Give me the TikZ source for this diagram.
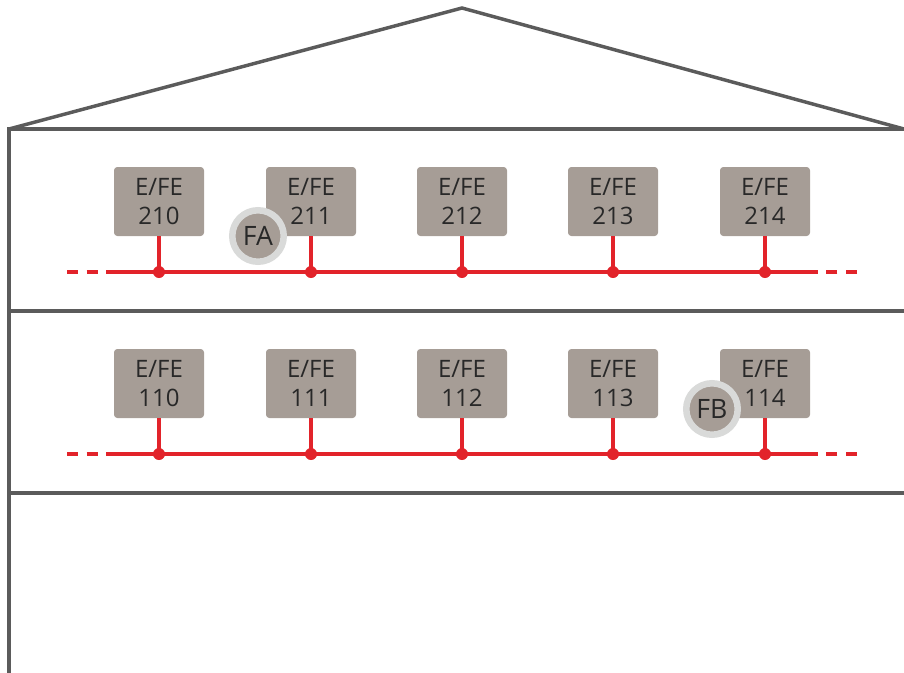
\documentclass[tikz,border=0pt]{standalone}
\usepackage{fontspec}
\setmainfont{Open Sans}
\definecolor{wallgray}{RGB}{91,91,91}
\definecolor{busred}{RGB}{226,35,42}
\definecolor{boxtaupe}{RGB}{166,157,150}
\definecolor{textdark}{RGB}{40,40,40}
\definecolor{ringgray}{RGB}{217,218,217}
\tikzset{
  wall/.style={line width=2.6pt, draw=wallgray, line join=miter},
  bus/.style={line width=3.2pt, draw=busred},
  busdash/.style={bus, dash pattern=on 8.25pt off 6.4pt},
  stub/.style={line width=3.2pt, draw=busred},
  tap/.style={circle, fill=busred, minimum size=9pt, inner sep=0pt},
  efe/.style={rectangle, rounded corners=2.5pt, fill=boxtaupe, text=textdark, align=center,
    minimum width=67.5pt, minimum height=51.75pt, inner sep=0pt,
    font=\fontsize{18}{22}\selectfont},
  fault/.style={circle, fill=boxtaupe, draw=ringgray, line width=4.9pt, minimum size=38.6pt,
    inner sep=0pt, text=textdark, font=\fontsize{20}{22}\selectfont}
}
\begin{document}
\begin{tikzpicture}[x=0.75pt, y=-0.75pt]
  \useasboundingbox (0,0) rectangle (904,672);

  % building outline
  \coordinate (eaveL) at (9,129);
  \coordinate (apex) at (462,8);
  \coordinate (eaveR) at (904,129);
  \coordinate (floor1L) at (9,311);
  \coordinate (floor1R) at (904,311);
  \coordinate (floor0L) at (9,493);
  \coordinate (floor0R) at (904,493);
  \coordinate (ground) at (9,675);
  \draw[wall] (eaveL) -- (apex) -- (eaveR);
  \draw[wall] (eaveR) -- (eaveL) -- (ground);
  \draw[wall] (floor1L) -- (floor1R);
  \draw[wall] (floor0L) -- (floor0R);

  % upper floor bus
  \coordinate (bus2W) at (67,272);
  \coordinate (bus2A) at (106,272);
  \coordinate (bus2B) at (818,272);
  \coordinate (bus2E) at (857,272);
  \draw[bus] (bus2A) -- (bus2B);
  \draw[busdash] (bus2W) -- (bus2A);
  \draw[busdash] (bus2E) -- (bus2B);

  \node[efe] (e210) at (159,201.5) {E/FE\\210};
  \node[efe] (e211) at (311,201.5) {E/FE\\211};
  \node[efe] (e212) at (462,201.5) {E/FE\\212};
  \node[efe] (e213) at (613,201.5) {E/FE\\213};
  \node[efe] (e214) at (765,201.5) {E/FE\\214};
  \node[tap] (t210) at (159,272) {};
  \node[tap] (t211) at (311,272) {};
  \node[tap] (t212) at (462,272) {};
  \node[tap] (t213) at (613,272) {};
  \node[tap] (t214) at (765,272) {};
  \draw[stub] (e210.south) -- (t210.center);
  \draw[stub] (e211.south) -- (t211.center);
  \draw[stub] (e212.south) -- (t212.center);
  \draw[stub] (e213.south) -- (t213.center);
  \draw[stub] (e214.south) -- (t214.center);

  % lower floor bus
  \coordinate (bus1W) at (67,454);
  \coordinate (bus1A) at (106,454);
  \coordinate (bus1B) at (818,454);
  \coordinate (bus1E) at (857,454);
  \draw[bus] (bus1A) -- (bus1B);
  \draw[busdash] (bus1W) -- (bus1A);
  \draw[busdash] (bus1E) -- (bus1B);

  \node[efe] (e110) at (159,383.5) {E/FE\\110};
  \node[efe] (e111) at (311,383.5) {E/FE\\111};
  \node[efe] (e112) at (462,383.5) {E/FE\\112};
  \node[efe] (e113) at (613,383.5) {E/FE\\113};
  \node[efe] (e114) at (765,383.5) {E/FE\\114};
  \node[tap] (t110) at (159,454) {};
  \node[tap] (t111) at (311,454) {};
  \node[tap] (t112) at (462,454) {};
  \node[tap] (t113) at (613,454) {};
  \node[tap] (t114) at (765,454) {};
  \draw[stub] (e110.south) -- (t110.center);
  \draw[stub] (e111.south) -- (t111.center);
  \draw[stub] (e112.south) -- (t112.center);
  \draw[stub] (e113.south) -- (t113.center);
  \draw[stub] (e114.south) -- (t114.center);

  % fault markers
  \node[fault] (fa) at (258,236) {FA};
  \node[fault] (fb) at (712,409) {FB};
\end{tikzpicture}
\end{document}
